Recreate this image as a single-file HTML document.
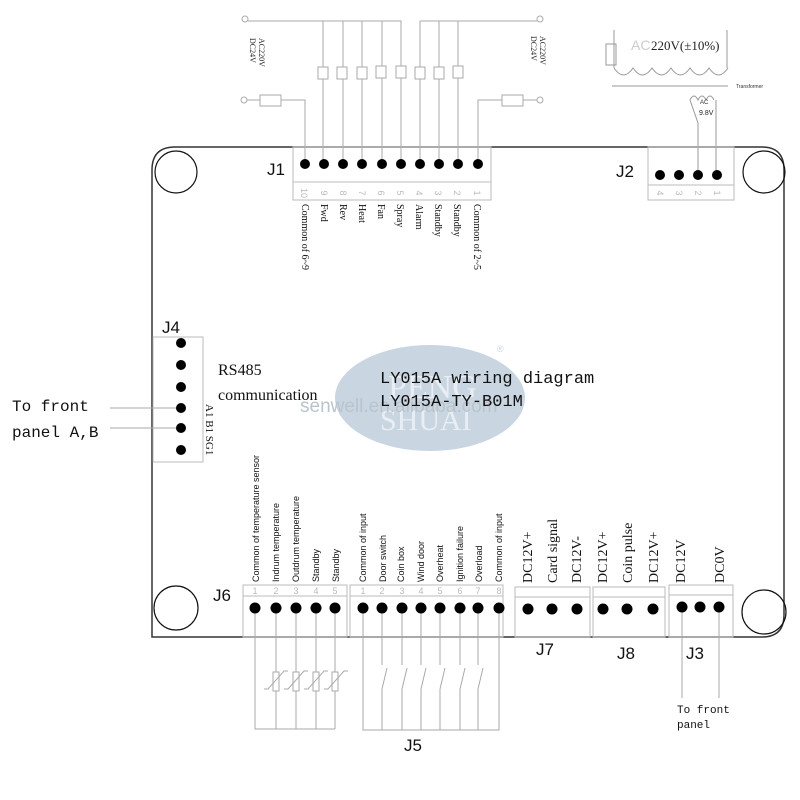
<!DOCTYPE html>
<html><head><meta charset="utf-8"><style>body{margin:0;background:#fff}svg{display:block}</style></head><body>
<svg width="800" height="800" viewBox="0 0 800 800" xmlns="http://www.w3.org/2000/svg" font-family="Liberation Serif, serif">
<ellipse cx="430" cy="398" rx="95" ry="53" fill="#c9d5e1"/>
<text x="388" y="398" font-size="34" fill="#e8eef4">PENG</text>
<text x="380" y="430" font-size="30" fill="#e8eef4">SHUAI</text>
<text x="300" y="412" font-size="19" fill="#b9c4cc" font-family="Liberation Sans,sans-serif">senwell.en.alibaba.com</text>
<text x="497" y="352" font-size="9" fill="#c9d5e1" font-family="Liberation Sans,sans-serif">®</text>

<path d="M152 637 V170 Q152 147 175 147 H762 Q784 147 784 170 V615 Q784 637 762 637 Z" fill="none" stroke="#333" stroke-width="1.5"/>
<g fill="none" stroke="#111" stroke-width="1.2">
<circle cx="176" cy="172" r="21"/><circle cx="764" cy="172" r="21"/>
<circle cx="176" cy="608" r="22"/><circle cx="764" cy="612" r="22"/>
</g>

<g stroke="#aaa" stroke-width="1" fill="#fff">
<circle cx="245" cy="19" r="3"/><circle cx="540" cy="19" r="3"/>
<circle cx="244" cy="100" r="3"/><circle cx="540" cy="100" r="3"/>
<path d="M248 21 H401 V160 M323 21 V160 M343 21 V160 M362 21 V160 M382 21 V160 M420 21 H537 M420 21 V160 M439 21 V160 M458 21 V160" fill="none"/>
<path d="M247 100 H305 V160 M537 100 H478 V160" fill="none"/>
<rect x="260" y="95" width="21" height="11"/><rect x="502" y="95" width="21" height="11"/>
<rect x="318" y="67" width="10" height="12"/><rect x="337" y="67" width="10" height="12"/>
<rect x="357" y="67" width="10" height="12"/><rect x="376" y="66" width="10" height="12"/>
<rect x="396" y="66" width="10" height="12"/><rect x="415" y="67" width="10" height="12"/>
<rect x="434" y="67" width="10" height="12"/><rect x="453" y="66" width="10" height="12"/>
</g>
<g font-size="8" fill="#222">
<text transform="translate(259,38) rotate(90)">AC220V</text>
<text transform="translate(250,38) rotate(90)">DC24V</text>
<text transform="translate(540,36) rotate(90)">AC220V</text>
<text transform="translate(531,36) rotate(90)">DC24V</text>
</g>

<g stroke="#999" fill="none" stroke-width="1">
<path d="M614 30 V68 M727 30 V68"/>
<rect x="606" y="44" width="10" height="21"/>
<path d="M614 68 q9.5 14 19 0 q9.5 14 19 0 q9.5 14 19 0 q9.5 14 19 0 q9.5 14 19 0 q9.5 14 19 0"/>
<path d="M612 86 H728"/>
<path d="M690 100 q4 -8 8 0 q4 -8 8 0 q4 -8 8 0 M690 100 L698 123 V175 M716 100 V175"/>
</g>
<text x="631" y="50" font-size="14" fill="#ccc" font-family="Liberation Sans,sans-serif">AC</text>
<text x="651" y="50" font-size="13" fill="#222">220V(±10%)</text>
<text x="736" y="88" font-size="5" fill="#333" font-family="Liberation Sans,sans-serif">Transformer</text>
<text x="700" y="104" font-size="6" fill="#333" font-family="Liberation Sans,sans-serif">AC</text>
<text x="699" y="115" font-size="7" fill="#222" font-family="Liberation Sans,sans-serif">9.8V</text>

<g fill="none" stroke="#bbb" stroke-width="1">
<rect x="293" y="147" width="198" height="53"/><path d="M293 182 H491"/>
<rect x="648" y="147" width="86" height="53"/><path d="M648 185 H734"/>
<rect x="153" y="337" width="50" height="125"/>
<rect x="243" y="585" width="104" height="52"/><path d="M243 596 H347"/>
<rect x="350" y="585" width="153" height="52"/><path d="M350 596 H503"/>
<rect x="515" y="587" width="75" height="50"/><path d="M515 597 H590"/>
<rect x="593" y="587" width="72" height="50"/><path d="M593 597 H665"/>
<rect x="669" y="585" width="64" height="52"/><path d="M669 595 H733"/>
</g>

<!-- bottom wiring (behind dots) -->
<g stroke="#aaa" fill="none" stroke-width="1">
<path d="M255 608 V729 H335 M276 608 V729 M296 608 V729 M316 608 V729 M335 608 V729"/>
<rect x="273" y="672" width="6" height="19" fill="#fff"/><rect x="293" y="672" width="6" height="19" fill="#fff"/><rect x="313" y="672" width="6" height="19" fill="#fff"/><rect x="332" y="672" width="6" height="19" fill="#fff"/>
<path d="M264 689 h4 l16 -18 h4 M284 689 h4 l16 -18 h4 M304 689 h4 l16 -18 h4 M324 689 h4 l16 -18 h4"/>
<path d="M363 608 V730 H499 V608"/>
<path d="M382 608 V665 M382 689 V730 M382 689 L387 668"/>
<path d="M402 608 V665 M402 689 V730 M402 689 L407 668"/>
<path d="M421 608 V665 M421 689 V730 M421 689 L426 668"/>
<path d="M440 608 V665 M440 689 V730 M440 689 L445 668"/>
<path d="M460 608 V665 M460 689 V730 M460 689 L465 668"/>
<path d="M478 608 V665 M478 689 V730 M478 689 L483 668"/>
<path d="M682 607 V698 M719 607 V698"/>
<path d="M110 408 H181 M110 428 H181"/>
</g>

<g fill="#000">
<circle cx="305" cy="164" r="5"/><circle cx="324" cy="164" r="5"/><circle cx="343" cy="164" r="5"/><circle cx="362" cy="164" r="5"/><circle cx="382" cy="164" r="5"/><circle cx="401" cy="164" r="5"/><circle cx="420" cy="164" r="5"/><circle cx="439" cy="164" r="5"/><circle cx="458" cy="164" r="5"/><circle cx="478" cy="164" r="5"/>
<circle cx="660" cy="175" r="5"/><circle cx="679" cy="175" r="5"/><circle cx="698" cy="175" r="5"/><circle cx="717" cy="175" r="5"/>
<circle cx="181" cy="343" r="5"/><circle cx="181" cy="365" r="5"/><circle cx="181" cy="387" r="5"/><circle cx="181" cy="408" r="5"/><circle cx="181" cy="428" r="5"/><circle cx="181" cy="450" r="5"/>
<circle cx="255" cy="608" r="5.5"/><circle cx="276" cy="608" r="5.5"/><circle cx="296" cy="608" r="5.5"/><circle cx="316" cy="608" r="5.5"/><circle cx="335" cy="608" r="5.5"/>
<circle cx="363" cy="608" r="5.5"/><circle cx="382" cy="608" r="5.5"/><circle cx="402" cy="608" r="5.5"/><circle cx="421" cy="608" r="5.5"/><circle cx="440" cy="608" r="5.5"/><circle cx="460" cy="608" r="5.5"/><circle cx="478" cy="608" r="5.5"/><circle cx="499" cy="608" r="5.5"/>
<circle cx="528" cy="609" r="5.5"/><circle cx="552" cy="609" r="5.5"/><circle cx="577" cy="609" r="5.5"/>
<circle cx="603" cy="609" r="5.5"/><circle cx="627" cy="609" r="5.5"/><circle cx="653" cy="609" r="5.5"/>
<circle cx="682" cy="607" r="5.5"/><circle cx="700" cy="607" r="5.5"/><circle cx="719" cy="607" r="5.5"/>
</g>

<g font-size="9" fill="#bbb" font-family="Liberation Sans,sans-serif" text-anchor="middle">
<text transform="translate(301,193) rotate(90)">10</text><text transform="translate(321,193) rotate(90)">9</text><text transform="translate(340,193) rotate(90)">8</text><text transform="translate(359,193) rotate(90)">7</text><text transform="translate(378,193) rotate(90)">6</text><text transform="translate(397,193) rotate(90)">5</text><text transform="translate(416,193) rotate(90)">4</text><text transform="translate(435,193) rotate(90)">3</text><text transform="translate(454,193) rotate(90)">2</text><text transform="translate(474,193) rotate(90)">1</text>
<text transform="translate(657,193) rotate(90)">4</text><text transform="translate(676,193) rotate(90)">3</text><text transform="translate(695,193) rotate(90)">2</text><text transform="translate(714,193) rotate(90)">1</text>
<text x="255" y="594">1</text><text x="276" y="594">2</text><text x="296" y="594">3</text><text x="316" y="594">4</text><text x="335" y="594">5</text>
<text x="363" y="594">1</text><text x="382" y="594">2</text><text x="402" y="594">3</text><text x="421" y="594">4</text><text x="440" y="594">5</text><text x="460" y="594">6</text><text x="478" y="594">7</text><text x="499" y="594">8</text>
</g>

<g font-size="10" fill="#111">
<text transform="translate(302,204) rotate(90)">Common of 6~9</text>
<text transform="translate(321,204) rotate(90)">Fwd</text>
<text transform="translate(340,204) rotate(90)">Rev</text>
<text transform="translate(359,204) rotate(90)">Heat</text>
<text transform="translate(378,204) rotate(90)">Fan</text>
<text transform="translate(397,204) rotate(90)">Spray</text>
<text transform="translate(416,204) rotate(90)">Alarm</text>
<text transform="translate(435,204) rotate(90)">Standby</text>
<text transform="translate(454,204) rotate(90)">Standby</text>
<text transform="translate(474,204) rotate(90)">Common of 2~5</text>
</g>

<g font-size="9" fill="#111" font-family="Liberation Sans,sans-serif">
<text transform="translate(259,582) rotate(-90)">Common of temperature sensor</text>
<text transform="translate(279,582) rotate(-90)">Indrum temperature</text>
<text transform="translate(299,582) rotate(-90)">Outdrum temperature</text>
<text transform="translate(319,582) rotate(-90)">Standby</text>
<text transform="translate(339,582) rotate(-90)">Standby</text>
<text transform="translate(366,582) rotate(-90)">Common of input</text>
<text transform="translate(386,582) rotate(-90)">Door switch</text>
<text transform="translate(404,582) rotate(-90)">Coin box</text>
<text transform="translate(424,582) rotate(-90)">Wind door</text>
<text transform="translate(443,582) rotate(-90)">Overheat</text>
<text transform="translate(463,582) rotate(-90)">Ignition failure</text>
<text transform="translate(482,582) rotate(-90)">Overload</text>
<text transform="translate(502,582) rotate(-90)">Common of input</text>
</g>
<g font-size="14" fill="#111">
<text transform="translate(532,583) rotate(-90)">DC12V+</text>
<text transform="translate(557,583) rotate(-90)">Card signal</text>
<text transform="translate(581,583) rotate(-90)">DC12V-</text>
<text transform="translate(607,583) rotate(-90)">DC12V+</text>
<text transform="translate(632,583) rotate(-90)">Coin pulse</text>
<text transform="translate(658,583) rotate(-90)">DC12V+</text>
<text transform="translate(685,583) rotate(-90)">DC12V</text>
<text transform="translate(724,583) rotate(-90)">DC0V</text>
</g>

<g font-family="Liberation Mono,monospace" fill="#111">
<text x="677" y="713" font-size="11">To front</text>
<text x="677" y="728" font-size="11">panel</text>
<text x="12" y="411" font-size="16">To front</text>
<text x="12" y="437" font-size="16">panel A,B</text>
<text x="380" y="383" font-size="17">LY015A wiring diagram</text>
<text x="380" y="406" font-size="17">LY015A-TY-B01M</text>
</g>
<g font-size="16" fill="#111">
<text x="218" y="375">RS485</text>
<text x="218" y="400">communication</text>
</g>
<text transform="translate(206,404) rotate(90)" font-size="11" fill="#111">A1 B1 SG1</text>

<g font-family="Liberation Sans,sans-serif" font-size="17" fill="#111">
<text x="267" y="175">J1</text>
<text x="616" y="177">J2</text>
<text x="162" y="333">J4</text>
<text x="213" y="601">J6</text>
<text x="404" y="751">J5</text>
<text x="536" y="655">J7</text>
<text x="617" y="659">J8</text>
<text x="686" y="659">J3</text>
</g>
</svg>
</body></html>
